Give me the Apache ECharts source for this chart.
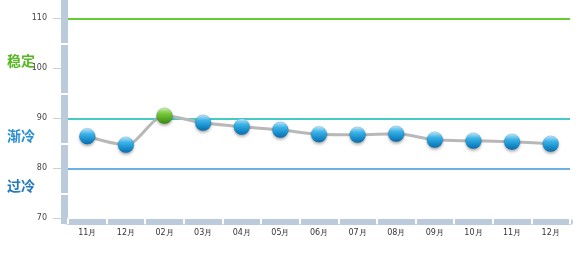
<!DOCTYPE html>
<html><head><meta charset="utf-8">
<script src="https://cdn.jsdelivr.net/npm/echarts@6/dist/echarts.min.js"></script>
<style>html,body{margin:0;padding:0;background:#fff}#c{width:582px;height:257px}</style>
</head><body><div id="c"></div>
<script>
var categories = ['11月','12月','02月','03月','04月','05月','06月','07月','08月','09月','10月','11月','12月'];
var values = [86.4, 84.7, 90.5, 89.1, 88.3, 87.7, 86.8, 86.7, 86.9, 85.7, 85.5, 85.3, 84.9];
var highlightIndex = [2];
var yTicks = [70, 80, 90, 100, 110];
var yGaps = [75, 85, 95, 105];
var refLines = [110, 90, 80];
var zoneLabels = ['稳定', '渐冷', '过冷'];

var blueBall = {type:'linear',x:0,y:0,x2:0,y2:1,colorStops:[{offset:0,color:'#c6ecff'},{offset:0.35,color:'#3cb4e8'},{offset:0.75,color:'#1488c8'},{offset:1,color:'#0c6aa6'}]};
var greenBall = {type:'linear',x:0,y:0,x2:0,y2:1,colorStops:[{offset:0,color:'#d6f5b0'},{offset:0.35,color:'#7cc940'},{offset:0.75,color:'#4ea21c'},{offset:1,color:'#3a8612'}]};

var data = values.map(function(v,i){
  return {value:v, itemStyle:{color: highlightIndex.indexOf(i) >= 0 ? greenBall : blueBall}};
});

var chart = echarts.init(document.getElementById('c'), null, {renderer:'canvas'});
chart.setOption({
  animation:false,
  grid:{left:68,right:12,top:0,bottom:38.7},
  xAxis:[
    {type:'category',data:categories,boundaryGap:true,offset:3,
     axisLine:{lineStyle:{color:'#bccbdc',width:6}},
     axisTick:{show:false},
     axisLabel:{fontSize:8,color:'#333',margin:8,fontFamily:'DejaVu Sans'},
     splitLine:{show:false}},
    {type:'category',data:categories,boundaryGap:true,position:'bottom',offset:0,
     axisLine:{show:false},
     axisTick:{show:true,length:6,lineStyle:{color:'#ffffff',width:2}},
     axisLabel:{show:false},splitLine:{show:false}}
  ],
  yAxis:[
    {type:'value',min:70,max:113.66,interval:10,position:'left',offset:3.5,
     axisLine:{show:true,lineStyle:{color:'#bccbdc',width:7}},
     axisTick:{show:false},axisLabel:{show:false},splitLine:{show:false}},
    {type:'value',min:70,max:113.66,interval:10,position:'left',offset:7,
     axisLine:{show:false},
     axisTick:{show:true,length:8,lineStyle:{color:'#cfcfcf',width:1},customValues:yTicks},
     axisLabel:{fontSize:8,color:'#444',margin:14,fontFamily:'DejaVu Sans',customValues:yTicks},
     splitLine:{show:false}},
    {type:'value',min:70,max:113.66,interval:10,position:'left',offset:0,
     axisLine:{show:false},
     axisTick:{show:true,length:7,lineStyle:{color:'#ffffff',width:2},customValues:yGaps},
     axisLabel:{show:false},splitLine:{show:false}}
  ],
  series:[{
    type:'line',xAxisIndex:0,yAxisIndex:0,data:data,smooth:0.3,
    lineStyle:{color:'#b8b8b8',width:3},
    symbol:'circle',symbolSize:16,
    itemStyle:{shadowBlur:3,shadowOffsetY:2,shadowColor:'rgba(0,0,0,0.3)',borderColor:'rgba(10,80,130,0.35)',borderWidth:0.5},
    z:5,
    markLine:{silent:true,symbol:'none',label:{show:false},
      data:[
        {yAxis:refLines[0],lineStyle:{color:'#66cc33',width:2,type:'solid'}},
        {yAxis:refLines[1],lineStyle:{color:'#44ccc4',width:2,type:'solid'}},
        {yAxis:refLines[2],lineStyle:{color:'#3a96d8',width:1.5,type:'solid'}}
      ]}
  }],
  graphic:[
    {type:'rect',left:61,top:218,shape:{width:6,height:6},style:{fill:'#bccbdc'}},
    {type:'text',left:7,top:54,style:{text:zoneLabels[0],fill:'#55b822',font:'bold 14px "Noto Sans CJK SC"'}},
    {type:'text',left:7,top:129,style:{text:zoneLabels[1],fill:'#2a8fd0',font:'bold 14px "Noto Sans CJK SC"'}},
    {type:'text',left:7,top:179,style:{text:zoneLabels[2],fill:'#2479be',font:'bold 14px "Noto Sans CJK SC"'}}
  ]
});
</script></body></html>
